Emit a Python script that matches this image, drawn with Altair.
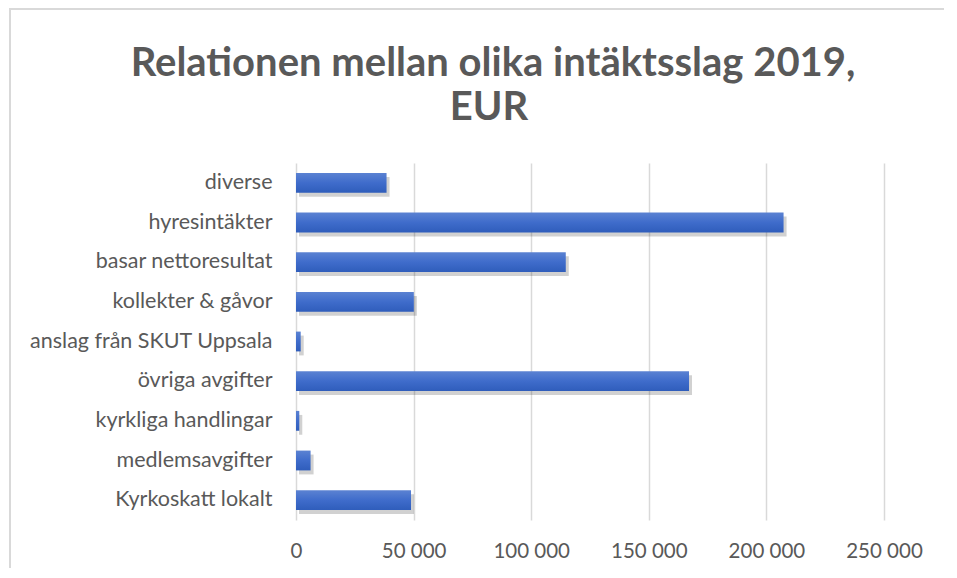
import altair as alt
import pandas as pd

categories = ["diverse", "hyresintäkter", "basar nettoresultat", "kollekter & gåvor",
              "anslag från SKUT Uppsala", "övriga avgifter", "kyrkliga handlingar",
              "medlemsavgifter", "Kyrkoskatt lokalt"]
values = [38500, 207300, 114700, 50100, 2000, 167100, 1400, 6200, 48900]
tick_values = [0, 50000, 100000, 150000, 200000, 250000]
title_lines = ["Relationen mellan olika intäktsslag 2019,", "EUR"]

df = pd.DataFrame({"kategori": categories, "belopp": values})

TEXT = "#595959"
FONT = "Lato"

x_enc = alt.X("belopp:Q",
              scale=alt.Scale(domain=[0, 250000], nice=False, zero=True),
              axis=alt.Axis(values=tick_values, title=None, domain=False, ticks=False,
                            grid=True, gridColor="#d9d9d9", gridWidth=1.5,
                            labelExpr="datum.value == 0 ? '0' : floor(datum.value/1000) + ' 000'",
                            labelFont=FONT, labelFontSize=20.5, labelColor=TEXT,
                            labelPadding=21, labelFlush=False, labelOverlap=False))
y_enc = alt.Y("kategori:N", sort=categories,
              scale=alt.Scale(paddingInner=0.5, paddingOuter=0.25),
              axis=alt.Axis(title=None, domain=False, ticks=False, grid=False,
                            labelFont=FONT, labelFontSize=21.5, labelColor=TEXT,
                            labelPadding=24, labelLimit=400))

shadow = alt.Chart(df).mark_bar(color="#000000", opacity=0.18, xOffset=3, yOffset=4).encode(
    x=x_enc, y=y_enc)

gradient = alt.Gradient(gradient="linear", x1=0, y1=0, x2=0, y2=1,
                        stops=[alt.GradientStop(color="#5b82d2", offset=0),
                               alt.GradientStop(color="#3f6ccb", offset=0.5),
                               alt.GradientStop(color="#2f5dbb", offset=1)])
bars = alt.Chart(df).mark_bar(color=gradient).encode(x=x_enc, y=y_enc)

border_left = alt.Chart(df).mark_rule(color="#d9d9d9", strokeWidth=1.5).encode(
    x=alt.value(-286), y=alt.value(-155), y2=alt.value(420))
border_top = alt.Chart(df).mark_rule(color="#d9d9d9", strokeWidth=1.5).encode(
    x=alt.value(-286), x2=alt.value(700), y=alt.value(-154))

title1 = alt.Chart(pd.DataFrame({"t": [title_lines[0]]})).mark_text(
    font=FONT, fontSize=40, fontWeight="bold", color=TEXT, align="center",
    baseline="alphabetic").encode(text="t:N", x=alt.value(197), y=alt.value(-87))
title2 = alt.Chart(pd.DataFrame({"t": [title_lines[1]]})).mark_text(
    font=FONT, fontSize=40, fontWeight="bold", color=TEXT, align="center",
    baseline="alphabetic").encode(text="t:N", x=alt.value(193), y=alt.value(-43))

chart = alt.layer(border_left, border_top, shadow, bars, title1, title2).properties(
    width=588, height=357,
    autosize=alt.AutoSizeParams(type="none"),
    padding={"left": 288, "top": 155, "right": 60, "bottom": 48},
).configure_view(stroke=None)

chart.save("out.html", embed_options={"renderer": "svg", "actions": False})
